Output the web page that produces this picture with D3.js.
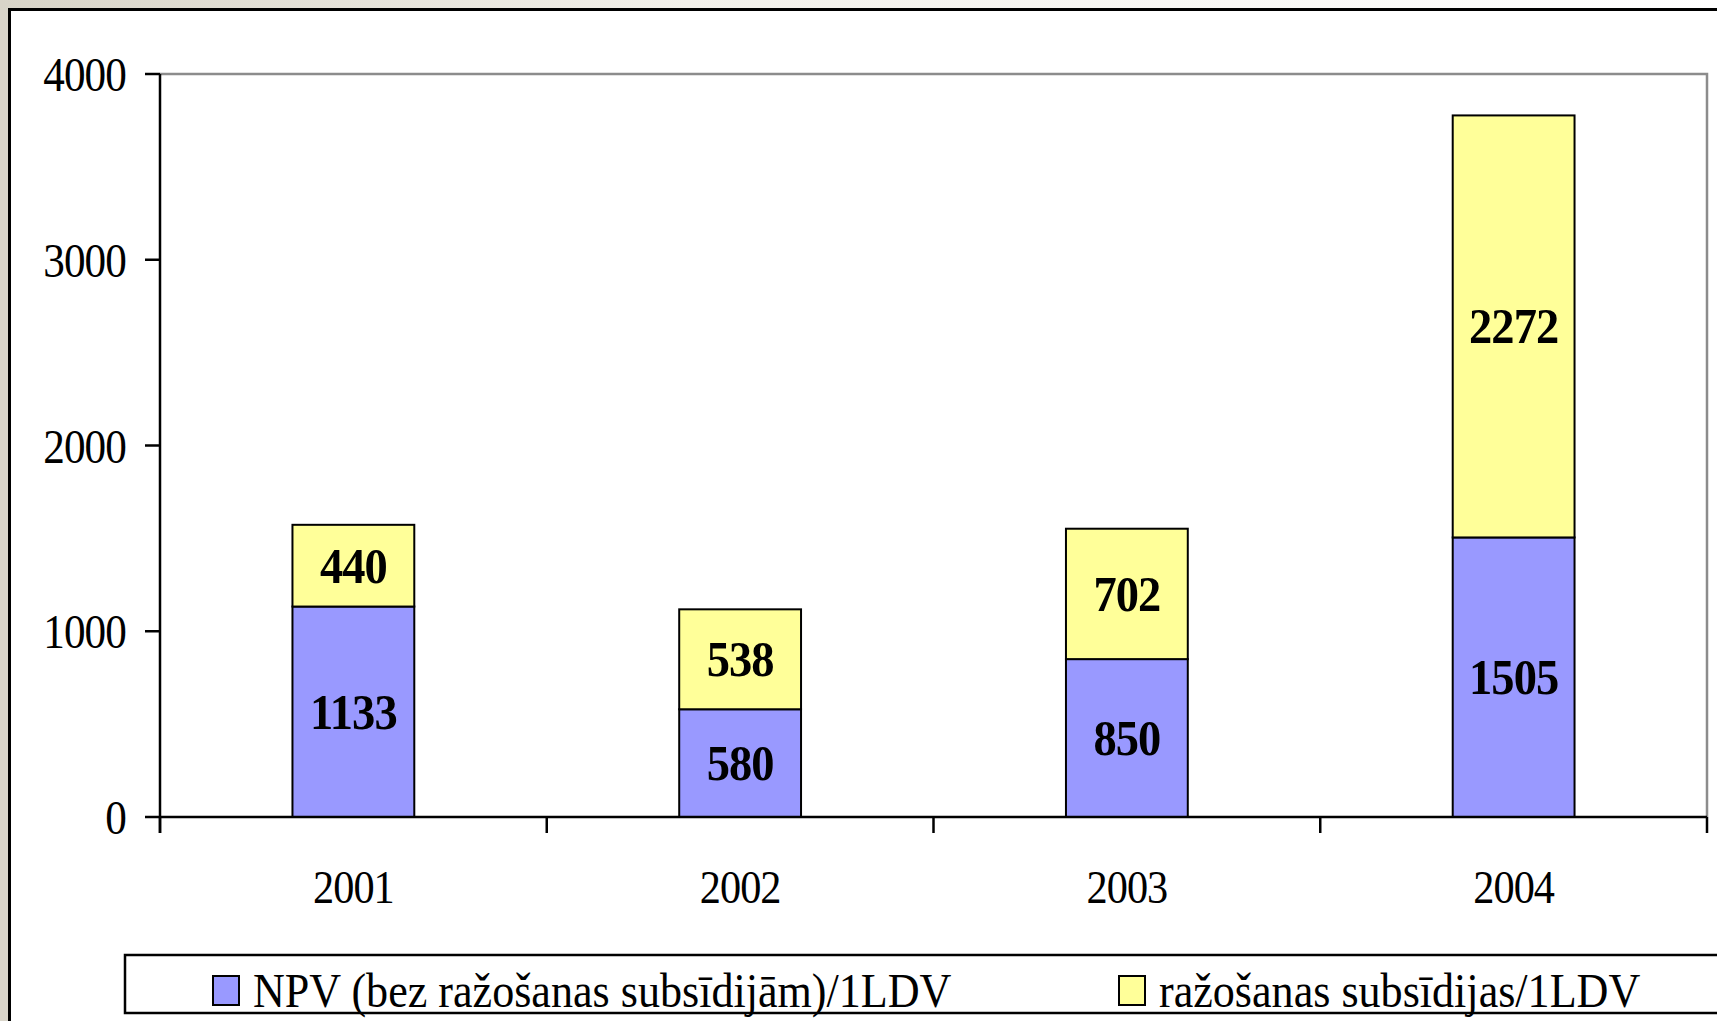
<!DOCTYPE html>
<html><head><meta charset="utf-8">
<script src="https://cdn.jsdelivr.net/npm/d3@7"></script>
<style>html,body{margin:0;padding:0;background:#fff;overflow:hidden}</style>
</head><body>
<svg id="c" width="1717" height="1021"></svg>
<script>
const years = ["2001","2002","2003","2004"];
const npv = [1133, 580, 850, 1505];
const subsid = [440, 538, 702, 2272];
const seriesNames = ["NPV (bez ražošanas subsīdijām)/1LDV", "ražošanas subsīdijas/1LDV"];
const seriesColors = ["#9999FF", "#FFFF99"];
const yTicks = [0, 1000, 2000, 3000, 4000];

const svg = d3.select("#c");
const W = 1717, H = 1021;
const FONT = "'Liberation Serif','Times New Roman',serif";
const SX = 0.9;

const defs = svg.append("defs");
const g1 = defs.append("linearGradient").attr("id","bg").attr("x1","0").attr("x2","1").attr("y1","0").attr("y2","0");
g1.append("stop").attr("offset","0").attr("stop-color","#d8d4c8");
g1.append("stop").attr("offset","0.4").attr("stop-color","#f2f0ea");
g1.append("stop").attr("offset","1").attr("stop-color","#ffffff");
svg.append("rect").attr("width",W).attr("height",H).attr("fill","url(#bg)");
svg.append("rect").attr("x",0).attr("y",10).attr("width",10).attr("height",H).attr("fill","#d9d5ca");
svg.append("rect").attr("x",10).attr("y",10).attr("width",W).attr("height",H).attr("fill","#fff");
svg.append("line").attr("x1",9.5).attr("x2",9.5).attr("y1",8).attr("y2",H).attr("stroke","#000").attr("stroke-width",3);
svg.append("line").attr("x1",8).attr("x2",W).attr("y1",9.5).attr("y2",9.5).attr("stroke","#000").attr("stroke-width",3);

const L = 160, R = 1707, T = 74, B = 817;
const x = d3.scaleBand().domain(years).range([L, R]).padding(0);
const y = d3.scaleLinear().domain([0, 4000]).range([B, T]);
const barW = x.bandwidth() * 0.315;

svg.append("path").attr("d", `M${L},${T}H${R}V${B}`).attr("fill","none").attr("stroke","#8c8c8c").attr("stroke-width",2.5);

const stack = years.map((yr,i)=>[{s:0,v0:0,v1:npv[i],val:npv[i],yr},{s:1,v0:npv[i],v1:npv[i]+subsid[i],val:subsid[i],yr}]);
const bars = svg.append("g");
stack.flat().forEach(d=>{
  const cx = x(d.yr) + x.bandwidth()/2;
  bars.append("rect").attr("x",cx-barW/2).attr("y",y(d.v1)).attr("width",barW).attr("height",y(d.v0)-y(d.v1))
    .attr("fill",seriesColors[d.s]).attr("stroke","#000").attr("stroke-width",2);
  bars.append("text").attr("transform",`translate(${cx},${(y(d.v0)+y(d.v1))/2+17}) scale(0.93,1)`)
    .attr("text-anchor","middle").attr("font-family",FONT).attr("font-weight","bold").attr("font-size",50)
    .attr("letter-spacing",-1).text(d.val);
});

const ya = svg.append("g");
ya.append("line").attr("x1",L).attr("x2",L).attr("y1",T).attr("y2",B+16).attr("stroke","#000").attr("stroke-width",2.5);
yTicks.forEach(t=>{
  ya.append("line").attr("x1",L-15).attr("x2",L).attr("y1",y(t)).attr("y2",y(t)).attr("stroke","#000").attr("stroke-width",2.5);
  ya.append("text").attr("transform",`translate(126,${y(t)+17}) scale(${SX},1)`).attr("text-anchor","end")
    .attr("font-family",FONT).attr("font-size",48).attr("letter-spacing",-1).text(t);
});
const xa = svg.append("g");
xa.append("line").attr("x1",L).attr("x2",R).attr("y1",B).attr("y2",B).attr("stroke","#000").attr("stroke-width",2.5);
const bounds = years.map(d=>x(d)).concat([x(years[years.length-1])+x.bandwidth()]);
bounds.forEach(b=>xa.append("line").attr("x1",b).attr("x2",b).attr("y1",B).attr("y2",B+16).attr("stroke","#000").attr("stroke-width",2.5));
years.forEach(yr=>{
  xa.append("text").attr("transform",`translate(${x(yr)+x.bandwidth()/2},${903}) scale(${SX},1)`).attr("text-anchor","middle")
    .attr("font-family",FONT).attr("font-size",47).attr("letter-spacing",-1).text(yr);
});

const lg = svg.append("g");
lg.append("rect").attr("x",125).attr("y",955).attr("width",1700).attr("height",58).attr("fill","#fff").attr("stroke","#000").attr("stroke-width",2.5);
const legX = [213, 1119];
seriesNames.forEach((n,i)=>{
  lg.append("rect").attr("x",legX[i]).attr("y",976).attr("width",26).attr("height",29).attr("fill",seriesColors[i]).attr("stroke","#000").attr("stroke-width",2);
  lg.append("text").attr("transform",`translate(${legX[i]+40},1007) scale(0.9,1)`)
    .attr("font-family",FONT).attr("font-size",49).text(n);
});
</script>
</body></html>
